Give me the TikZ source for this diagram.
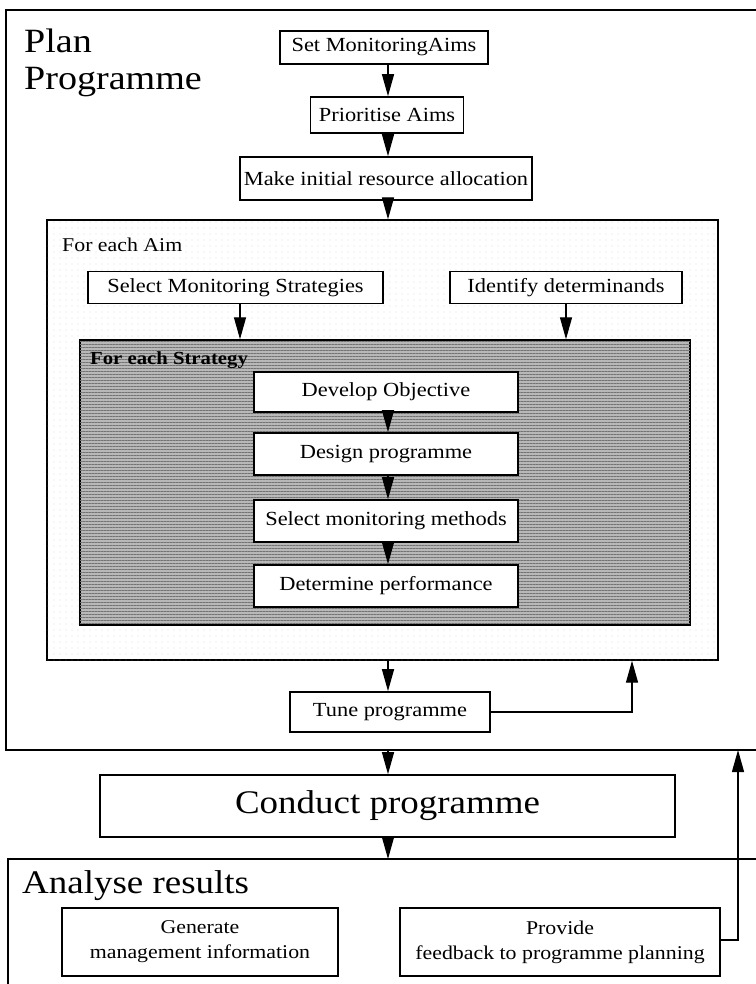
\documentclass[tikz,border=0pt]{standalone}
\usepackage{fontspec}
\setmainfont{Liberation Serif}[FakeStretch=1.12]
\usetikzlibrary{arrows.meta,patterns.meta}
\begin{document}
\begin{tikzpicture}[x=1pt,y=-1pt,
  stepbox/.style={draw,line width=1.6pt,fill=white,font=\fontsize{20}{22}\selectfont,inner sep=0pt},
  flow/.style={line width=1.3pt,-{Triangle[length=22pt,width=12pt]}},
  frame/.style={line width=1.4pt},
  big/.style={font=\fontsize{34}{38}\selectfont},
]
\useasboundingbox (0,0) rectangle (755,984);

% planning frame (open to the right)
\draw[frame] (756,10) -- (6,10) -- (6,750) -- (756,750);
\node[big,anchor=base west,inner sep=0pt] (plan) at (24,53) {Plan};
\node[big,anchor=base west,inner sep=0pt] (prog) at (24,90) {Programme};

\node[stepbox,minimum width=208pt,minimum height=33pt] (aims) at (384,47.5) {Set MonitoringAims};
\node[stepbox,minimum width=153pt,minimum height=36pt] (prio) at (387,115) {Prioritise Aims};
\node[stepbox,minimum width=292pt,minimum height=43pt] (alloc) at (386,178.5) {Make initial resource allocation};

% loop over aims
\node[draw,frame,minimum width=671pt,minimum height=440pt,inner sep=0pt] (aim) at (382.5,440) {};
\fill[pattern={Dots[distance=6pt,radius=0.45pt]},pattern color=black!40] (aim.north west) rectangle (aim.south east);
\node[anchor=west,inner sep=0pt,font=\fontsize{19.5}{22}\selectfont] (aimlbl) at (62,245) {For each Aim};
\node[stepbox,minimum width=295pt,minimum height=32pt] (strat) at (235.5,287.5) {Select Monitoring Strategies};
\node[stepbox,minimum width=232pt,minimum height=32pt] (det) at (566,287.5) {Identify determinands};

% loop over strategies
\node[draw,frame,fill=black!28,minimum width=610pt,minimum height=285pt,inner sep=0pt] (sbox) at (385,482.5) {};
\fill[pattern={Lines[distance=3pt,line width=1pt]},pattern color=black!55] (sbox.north west) rectangle (sbox.south east);
\draw[frame] (sbox.north west) rectangle (sbox.south east);
\node[anchor=west,inner sep=0pt,font=\bfseries\fontsize{18.5}{21}\selectfont] (slbl) at (90,360) {For each Strategy};
\node[stepbox,minimum width=264pt,minimum height=40pt] (obj) at (386,392) {Develop Objective};
\node[stepbox,minimum width=264pt,minimum height=42pt] (design) at (386,454) {Design programme};
\node[stepbox,minimum width=264pt,minimum height=42pt] (methods) at (386,521) {Select monitoring methods};
\node[stepbox,minimum width=264pt,minimum height=42pt] (perf) at (386,586) {Determine performance};

\node[stepbox,minimum width=200pt,minimum height=40pt] (tune) at (390,712) {Tune programme};

\node[draw,line width=1.6pt,minimum width=575pt,minimum height=62pt,inner sep=0pt,font=\fontsize{33}{36}\selectfont] (conduct) at (387.5,806) {Conduct programme};

% analysis frame (open to the right and below)
\draw[frame] (8,990) -- (8,859) -- (756,859);
\node[anchor=base west,inner sep=0pt,font=\fontsize{33}{36}\selectfont] (anl) at (22,893) {Analyse results};
\node[stepbox,minimum width=276pt,minimum height=68pt,align=center,font=\fontsize{19.5}{25}\selectfont] (mgmt) at (200,942) {Generate\\management information};
\node[stepbox,minimum width=320pt,minimum height=68pt,align=center,font=\fontsize{19.5}{25}\selectfont] (fb) at (560,942) {Provide\\feedback to programme planning};

% connectors
\coordinate (axis) at (388,0);
\draw[flow] (aims.south -| axis) -- (prio.north -| axis);
\draw[flow] (prio.south -| axis) -- (alloc.north -| axis);
\draw[flow] (alloc.south -| axis) -- (aim.north -| axis);
\draw[flow] (strat.south -| 240,0) -- (sbox.north -| 240,0);
\draw[flow] (det.south) -- (sbox.north -| det);
\draw[flow] (obj.south -| axis) -- (design.north -| axis);
\draw[flow] (design.south -| axis) -- (methods.north -| axis);
\draw[flow] (methods.south -| axis) -- (perf.north -| axis);
\draw[flow] (aim.south -| axis) -- (tune.north -| axis);
\coordinate (tuneturn) at (632,712);
\draw[flow] (tune.east) -- (tuneturn) -- (aim.south -| tuneturn);
\coordinate (planbase) at (388,750);
\draw[flow] (planbase) -- (conduct.north -| axis);
\coordinate (anltop) at (388,859);
\draw[flow] (conduct.south -| axis) -- (anltop);
\coordinate (fbturn) at (738,940);
\coordinate (fbtip) at (738,750);
\draw[flow] (fb.east |- fbturn) -- (fbturn) -- (fbtip);
\end{tikzpicture}
\end{document}
